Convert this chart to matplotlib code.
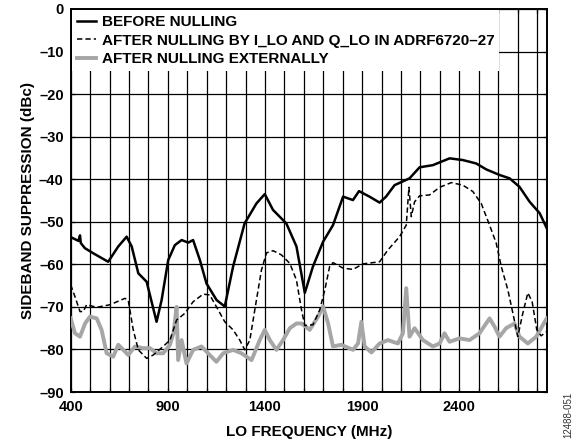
import numpy as np
import matplotlib
matplotlib.use("Agg")
import matplotlib.pyplot as plt
from matplotlib.ticker import FuncFormatter, MultipleLocator, FixedLocator

plt.rcParams['font.family'] = ['Liberation Sans', 'DejaVu Sans']

# before nulling
freq_before = [400, 440, 448, 452, 473, 516, 593, 645, 688, 714, 748, 791, 842, 868,
               902, 936, 971, 1005, 1030, 1065, 1099, 1151, 1193, 1236, 1295, 1356,
               1399, 1441, 1510, 1562, 1605, 1647, 1699, 1750, 1802, 1853, 1884, 1938,
               1990, 2023, 2067, 2144, 2196, 2264, 2350, 2418, 2487, 2539, 2607, 2659,
               2710, 2762, 2814, 2850]
sup_before = [-53.6, -54.5, -53.2, -55.0, -56.2, -57.4, -59.4, -55.8, -53.5, -55.8, -62.1,
              -64.1, -73.5, -68.4, -59.0, -55.5, -54.3, -54.9, -54.3, -59.0, -64.5, -68.4,
              -69.9, -60.5, -50.4, -45.7, -43.5, -47.2, -50.4, -55.8, -66.7, -60.5, -54.7,
              -50.8, -44.1, -44.9, -42.8, -44.1, -45.5, -44.1, -41.4, -39.8, -37.2, -36.7,
              -35.1, -35.5, -36.3, -37.7, -39.0, -39.8, -41.8, -45.3, -48.0, -51.5]

# after nulling by I_LO and Q_LO
freq_int = [400, 422, 448, 465, 482, 534, 602, 679, 696, 722, 748, 791, 825, 876, 911,
            945, 988, 1030, 1082, 1116, 1159, 1193, 1236, 1270, 1296, 1322, 1356, 1382,
            1408, 1442, 1485, 1528, 1562, 1588, 1605, 1647, 1682, 1708, 1733, 1750, 1802,
            1853, 1904, 1990, 2033, 2093, 2127, 2141, 2153, 2170, 2196, 2247, 2299, 2359,
            2418, 2470, 2513, 2556, 2590, 2616, 2650, 2676, 2701, 2727, 2753, 2775, 2799,
            2821, 2850]
sup_int = [-64.8, -67.6, -71.1, -71.1, -69.5, -70.1, -69.5, -68.0, -68.4, -75.4, -80.1,
           -82.1, -81.3, -79.3, -77.8, -73.1, -71.5, -68.8, -67.0, -67.2, -70.7, -73.5,
           -75.4, -77.8, -80.1, -77.8, -68.4, -61.3, -57.3, -56.8, -57.8, -59.8, -63.7,
           -70.7, -74.4, -74.2, -70.7, -66.0, -60.5, -59.6, -60.9, -61.2, -59.9, -59.4,
           -56.6, -53.5, -50.8, -41.9, -48.8, -45.3, -43.9, -43.7, -41.9, -40.8, -41.4,
           -42.9, -45.7, -50.8, -55.0, -60.5, -66.0, -71.5, -77.0, -71.5, -66.7, -68.8,
           -75.4, -76.8, -75.8]

# after nulling externally
freq_ext = [400, 422, 448, 474, 499, 534, 559, 585, 619, 645, 671, 696, 731, 773, 808,
            842, 876, 911, 930, 945, 953, 971, 996, 1030, 1073, 1107, 1150, 1185, 1236,
            1279, 1331, 1373, 1399, 1425, 1459, 1493, 1528, 1562, 1588, 1630, 1673, 1699,
            1725, 1750, 1793, 1853, 1879, 1896, 1913, 1948, 1990, 2033, 2084, 2110, 2127,
            2144, 2170, 2213, 2264, 2299, 2324, 2350, 2401, 2453, 2504, 2556, 2581, 2607,
            2641, 2684, 2710, 2753, 2796, 2850]
sup_ext = [-72.7, -76.2, -77.0, -73.9, -72.3, -72.7, -75.4, -80.9, -81.7, -78.9, -80.1,
           -81.3, -79.3, -79.7, -79.7, -80.9, -80.9, -78.9, -76.0, -70.0, -82.5, -77.8,
           -83.3, -80.1, -79.3, -80.9, -82.9, -80.9, -80.1, -80.9, -82.5, -77.8, -75.4,
           -77.8, -80.1, -77.8, -75.0, -73.9, -73.9, -75.4, -72.3, -69.9, -73.9, -79.3,
           -78.9, -80.1, -78.6, -73.5, -79.3, -80.7, -78.6, -77.8, -78.6, -76.2, -65.6,
           -77.0, -75.0, -77.8, -79.3, -78.6, -76.2, -78.2, -77.4, -77.8, -76.2, -72.7,
           -74.6, -77.0, -75.0, -73.9, -77.0, -78.6, -77.0, -72.7]

x_ticks = [400, 900, 1400, 1900, 2400]

fig = plt.figure(figsize=(5.77, 4.48), dpi=100)
ax = fig.add_axes([0.1225, 0.125, 0.825, 0.855])

ax.plot(freq_ext, sup_ext, color='#a6a6a6', lw=2.8, label='AFTER NULLING EXTERNALLY',
        zorder=3, solid_joinstyle='round')
ax.plot(freq_int, sup_int, color='black', lw=1.1, dashes=(3.5, 2),
        label='AFTER NULLING BY I_LO AND Q_LO IN ADRF6720\u201327', zorder=4)
ax.plot(freq_before, sup_before, color='black', lw=1.8, label='BEFORE NULLING', zorder=5,
        solid_joinstyle='round')

ax.set_xlim(400, 2850)
ax.set_ylim(-90, 0)
ax.xaxis.set_major_locator(FixedLocator(x_ticks))
ax.xaxis.set_minor_locator(MultipleLocator(100))
ax.yaxis.set_major_locator(MultipleLocator(10))
ax.grid(True, which='both', color='black', lw=0.9)
ax.set_axisbelow(True)
ax.tick_params(which='both', direction='in', length=3, top=True, right=True,
               labelsize=10.5, width=0.9)
ax.tick_params(axis='x', pad=6)
ax.tick_params(axis='y', pad=5)
fmt = FuncFormatter(lambda v, p: f"{v:.0f}".replace('-', '\u2013'))
ax.xaxis.set_major_formatter(fmt)
ax.yaxis.set_major_formatter(fmt)
for lab in ax.get_xticklabels() + ax.get_yticklabels():
    lab.set_fontweight('bold')
for s in ax.spines.values():
    s.set_linewidth(1.4)

ax.set_xlabel('LO FREQUENCY (MHz)', fontsize=11, fontweight='bold', labelpad=8)
ax.set_ylabel('SIDEBAND SUPPRESSION (dBc)', fontsize=11, fontweight='bold', labelpad=3)

h, l = ax.get_legend_handles_labels()
leg = ax.legend(h[::-1], l[::-1], loc='upper left', bbox_to_anchor=(0.0, 1.0),
                borderaxespad=0.1, frameon=True, fancybox=False, handlelength=1.25,
                handletextpad=0.4, labelspacing=0.3, borderpad=0.3,
                prop={'weight': 'bold', 'size': 11})
leg.get_frame().set_edgecolor('none')
leg.get_frame().set_facecolor('white')
leg.get_frame().set_alpha(1)

fig.text(0.985, 0.075, '12488-051', rotation=90, fontsize=7, color='#333333',
         ha='center', va='center')

fig.savefig('out.png', dpi=100)
